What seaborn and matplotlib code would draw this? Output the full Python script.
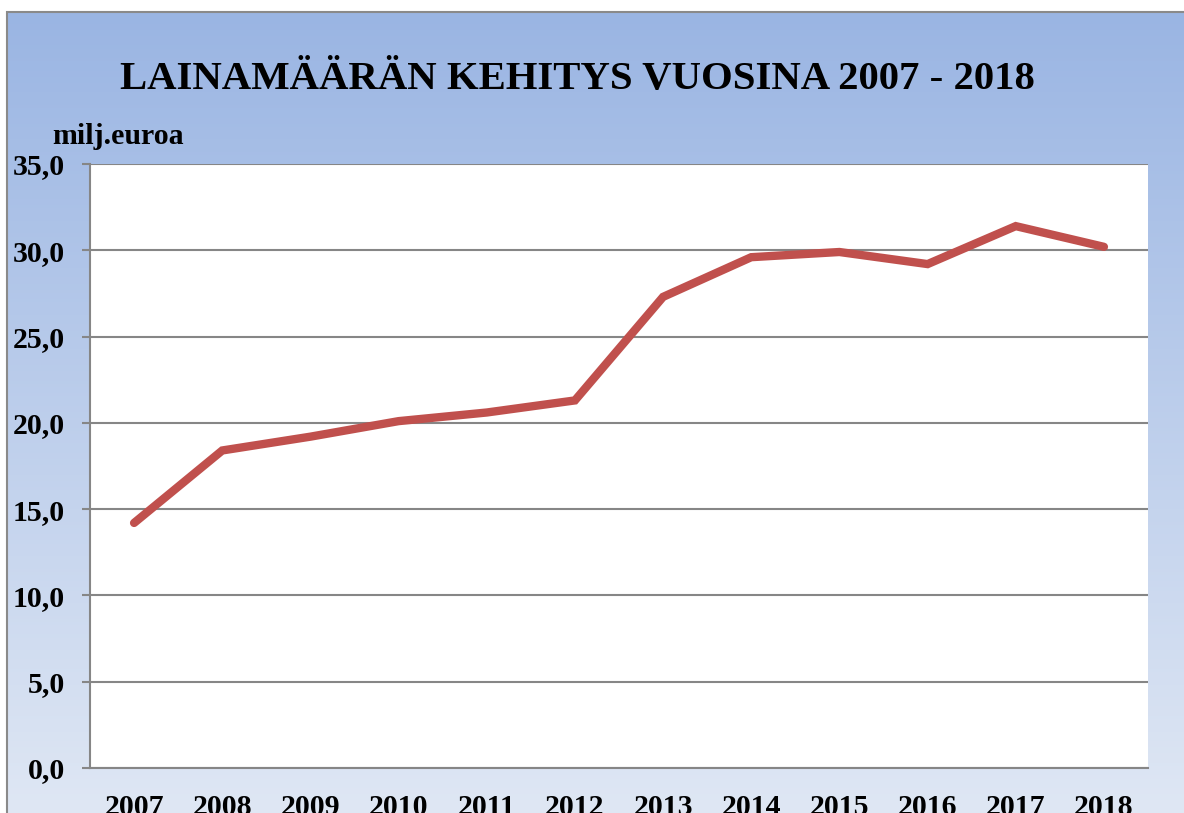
import numpy as np
import matplotlib.pyplot as plt
import seaborn as sns
import pandas as pd
from matplotlib.colors import LinearSegmentedColormap
from matplotlib.patches import Rectangle

years = ["2007", "2008", "2009", "2010", "2011", "2012",
         "2013", "2014", "2015", "2016", "2017", "2018"]
loans = [14.2, 18.4, 19.2, 20.1, 20.6, 21.3, 27.3, 29.6, 29.9, 29.2, 31.4, 30.2]
y_ticks = [0, 5, 10, 15, 20, 25, 30, 35]
y_labels = ["0,0", "5,0", "10,0", "15,0", "20,0", "25,0", "30,0", "35,0"]

df = pd.DataFrame({"year": years, "loans": loans})

sns.set_style("white")
plt.rcParams["font.family"] = ["Liberation Serif", "DejaVu Serif"]
plt.rcParams["font.weight"] = "bold"
plt.rcParams["text.color"] = "black"
plt.rcParams["xtick.labelcolor"] = "black"
plt.rcParams["ytick.labelcolor"] = "black"

fig = plt.figure(figsize=(11.84, 8.13), dpi=100)

# gradient chart background with frame
W, H = 1184, 813
bg = fig.add_axes([7 / W, 0, 1 - 7 / W, 1 - 12 / H])
cmap = LinearSegmentedColormap.from_list("bg", ["#9ab5e3", "#dfe7f4"])
bg.imshow(np.linspace(0, 1, 256).reshape(-1, 1), aspect="auto", cmap=cmap,
          extent=[0, 1, 0, 1], origin="upper")
bg.set_xlim(0, 1)
bg.set_ylim(0, 1)
bg.axis("off")
fig.add_artist(Rectangle((7 / W, -0.1), 1.2, 1 - 12 / H + 0.1,
                         transform=fig.transFigure, fill=False,
                         edgecolor="#8a8a8a", linewidth=1.5))

ax = fig.add_axes([90 / W, 1 - 768 / H, (1148 - 90) / W, (768 - 164) / H])
ax.set_facecolor("white")

sns.lineplot(data=df, x="year", y="loans", ax=ax, color="#c0504d",
             linewidth=6, solid_capstyle="round", solid_joinstyle="miter")

ax.set_xlim(-0.5, 11.5)
ax.set_ylim(0, 35)
ax.set_yticks(y_ticks)
ax.set_yticklabels(y_labels)
ax.set_xticks(range(len(years)))
ax.set_xticklabels(years)
ax.set_xticks(np.arange(-0.5, 12, 1), minor=True)
ax.grid(axis="y", color="#868686", linewidth=1.5)
ax.set_axisbelow(True)

ax.tick_params(axis="x", which="major", length=0, pad=19, labelsize=21.5)
ax.tick_params(axis="x", which="minor", length=6, width=1.5, color="#868686",
               direction="out")
ax.tick_params(axis="y", length=6, width=1.5, color="#868686", pad=12,
               labelsize=21.5, left=True)
for lab in ax.get_xticklabels() + ax.get_yticklabels():
    lab.set_fontweight("bold")

for s in ["top", "right"]:
    ax.spines[s].set_visible(False)
for s in ["left", "bottom"]:
    ax.spines[s].set_color("#868686")
    ax.spines[s].set_linewidth(1.5)

ax.set_xlabel("")
ax.set_ylabel("")

fig.text(577 / W, 1 - 80 / H, "LAINAMÄÄRÄN KEHITYS VUOSINA 2007 - 2018",
         ha="center", va="center", fontsize=29.3, fontweight="bold")
fig.text(52 / W, 1 - 137 / H, "milj.euroa", ha="left", va="center",
         fontsize=21.5, fontweight="bold")

fig.savefig("out.png", dpi=100)
